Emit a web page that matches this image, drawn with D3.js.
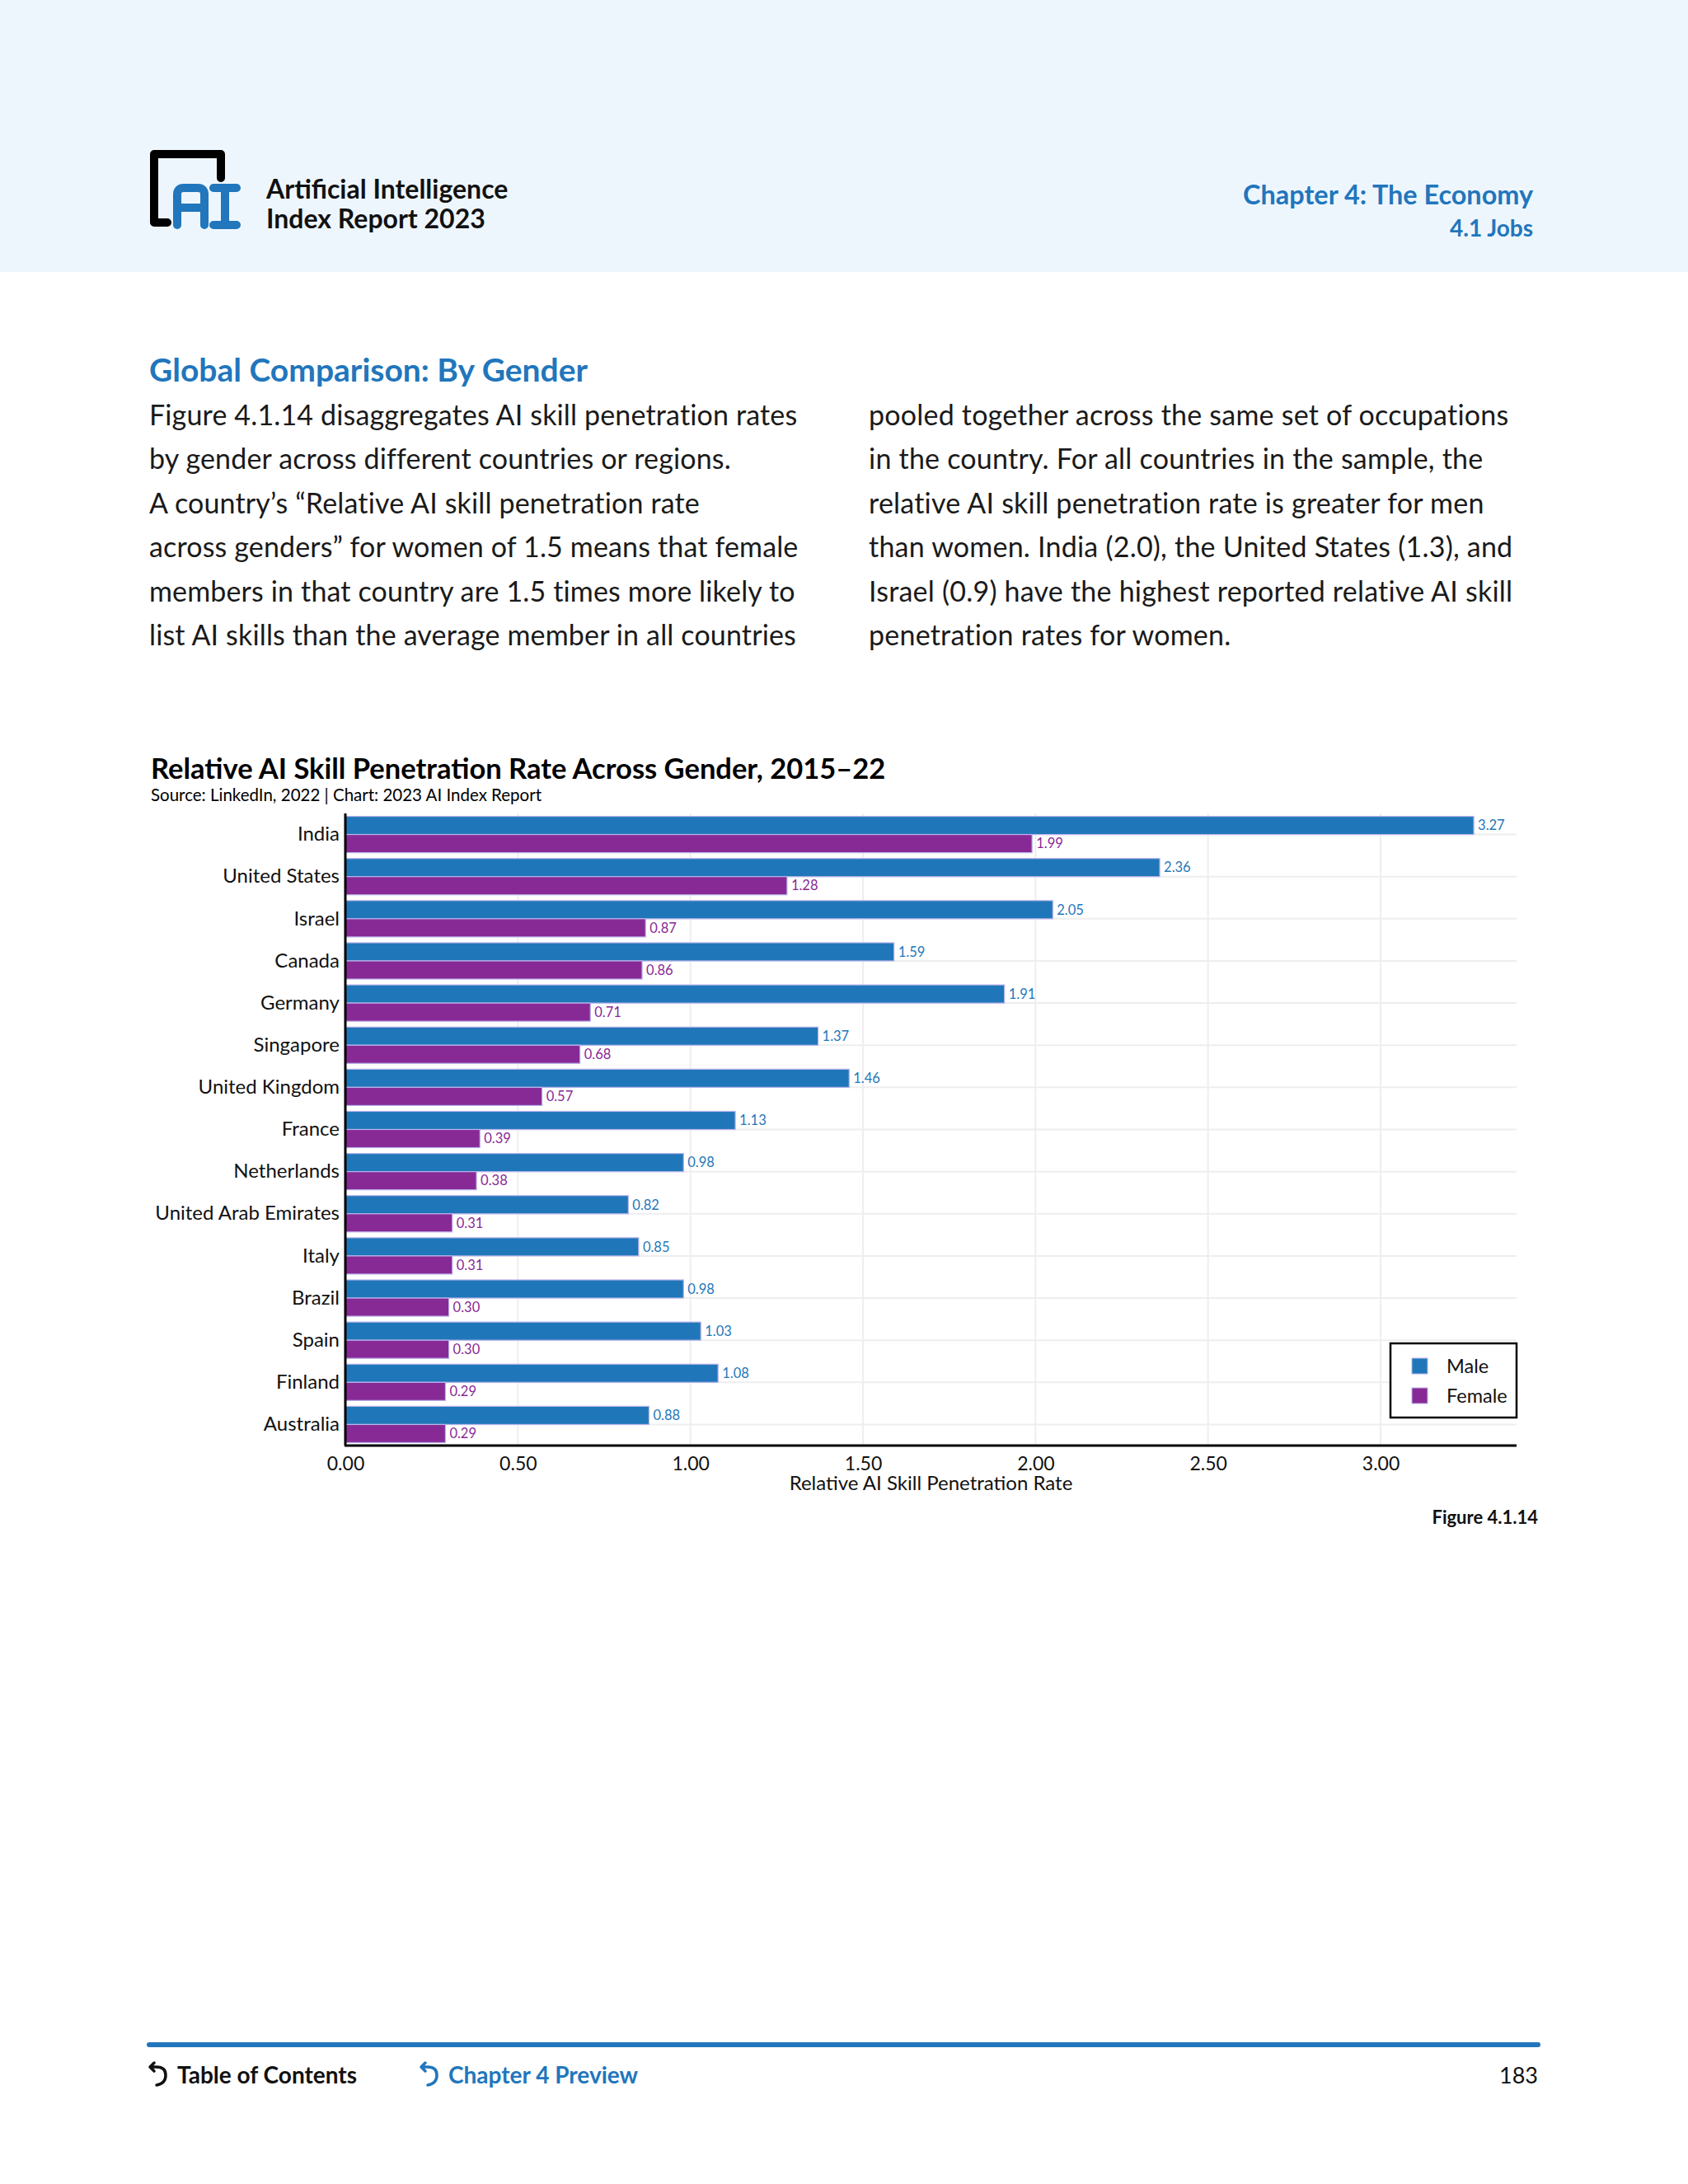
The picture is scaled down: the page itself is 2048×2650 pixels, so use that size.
<!DOCTYPE html>
<html>
<head>
<meta charset="utf-8">
<script src="https://cdn.jsdelivr.net/npm/d3@7"></script>
<style>
  html, body { margin: 0; padding: 0; background: #ffffff; }
  svg { display: block; }
</style>
</head>
<body>
<svg id="page" width="2048" height="2650"></svg>
<script>
// ---------------- DATA ----------------
const countries = ["India", "United States", "Israel", "Canada", "Germany", "Singapore",
  "United Kingdom", "France", "Netherlands", "United Arab Emirates", "Italy", "Brazil",
  "Spain", "Finland", "Australia"];
const maleValues = [3.27, 2.36, 2.05, 1.59, 1.91, 1.37, 1.46, 1.13, 0.98, 0.82, 0.85, 0.98, 1.03, 1.08, 0.88];
const femaleValues = [1.99, 1.28, 0.87, 0.86, 0.71, 0.68, 0.57, 0.39, 0.38, 0.31, 0.31, 0.30, 0.30, 0.29, 0.29];
const seriesNames = ["Male", "Female"];
const xTicks = [0, 0.5, 1.0, 1.5, 2.0, 2.5, 3.0];
const xTickLabels = ["0.00", "0.50", "1.00", "1.50", "2.00", "2.50", "3.00"];

const leftParagraph = [
  "Figure 4.1.14 disaggregates AI skill penetration rates",
  "by gender across different countries or regions.",
  "A country’s “Relative AI skill penetration rate",
  "across genders” for women of 1.5 means that female",
  "members in that country are 1.5 times more likely to",
  "list AI skills than the average member in all countries"
];
const rightParagraph = [
  "pooled together across the same set of occupations",
  "in the country. For all countries in the sample, the",
  "relative AI skill penetration rate is greater for men",
  "than women. India (2.0), the United States (1.3), and",
  "Israel (0.9) have the highest reported relative AI skill",
  "penetration rates for women."
];

// ---------------- STYLE ----------------
const BLUE = "#1f77b9";
const PURPLE = "#882a96";
const HEAD_BLUE = "#2176bc";
const TXT = "#111111";
const FONT = "Lato, 'Open Sans', sans-serif";

const svg = d3.select("#page");

// Header band
svg.append("rect").attr("x", 0).attr("y", 0).attr("width", 2048).attr("height", 330).attr("fill", "#eef6fd");

// Logo
const logo = svg.append("g");
logo.append("path")
  .attr("d", "M 268 216 L 268 187 L 187 187 L 187 270 L 203 270")
  .attr("fill", "none").attr("stroke", "#000").attr("stroke-width", 10).attr("stroke-linecap", "round").attr("stroke-linejoin", "round");
// "A"
logo.append("path")
  .attr("d", "M 215 273 L 215 236 Q 215 228 223 228 L 240 228 Q 248 228 248 236 L 248 273 M 215 252 L 248 252")
  .attr("fill", "none").attr("stroke", HEAD_BLUE).attr("stroke-width", 10).attr("stroke-linecap", "round").attr("stroke-linejoin", "round");
// "I"
logo.append("path")
  .attr("d", "M 259 228 L 287 228 M 273 228 L 273 273 M 259 273 L 287 273")
  .attr("fill", "none").attr("stroke", HEAD_BLUE).attr("stroke-width", 10).attr("stroke-linecap", "round");

svg.append("text").attr("x", 323).attr("y", 241).attr("font-family", FONT).attr("font-weight", 700)
  .attr("font-size", 32).attr("fill", TXT).text("Artificial Intelligence");
svg.append("text").attr("x", 323).attr("y", 277).attr("font-family", FONT).attr("font-weight", 700)
  .attr("font-size", 32).attr("fill", TXT).text("Index Report 2023");

svg.append("text").attr("x", 1860).attr("y", 248).attr("text-anchor", "end").attr("font-family", FONT)
  .attr("font-weight", 700).attr("font-size", 32.4).attr("fill", HEAD_BLUE).text("Chapter 4: The Economy");
svg.append("text").attr("x", 1860).attr("y", 287).attr("text-anchor", "end").attr("font-family", FONT)
  .attr("font-weight", 700).attr("font-size", 28).attr("fill", HEAD_BLUE).text("4.1 Jobs");

// Section heading
svg.append("text").attr("x", 181).attr("y", 463).attr("font-family", FONT).attr("font-weight", 700)
  .attr("font-size", 39).attr("fill", HEAD_BLUE).text("Global Comparison: By Gender");

// Paragraph columns
const lineY0 = 516, lineH = 53.4;
leftParagraph.forEach((t, i) => {
  svg.append("text").attr("x", 181).attr("y", lineY0 + i * lineH).attr("font-family", FONT)
    .attr("font-size", 34).attr("letter-spacing", 0.15).attr("fill", "#1a1a1a").text(t);
});
rightParagraph.forEach((t, i) => {
  svg.append("text").attr("x", 1054).attr("y", lineY0 + i * lineH).attr("font-family", FONT)
    .attr("font-size", 34).attr("letter-spacing", 0.22).attr("fill", "#1a1a1a").text(t);
});

// Chart title
svg.append("text").attr("x", 183).attr("y", 945).attr("font-family", FONT).attr("font-weight", 700)
  .attr("font-size", 34.5).attr("fill", "#000").text("Relative AI Skill Penetration Rate Across Gender, 2015–22");
svg.append("text").attr("x", 183).attr("y", 972).attr("font-family", FONT)
  .attr("font-size", 20.5).attr("fill", "#000").text("Source: LinkedIn, 2022 | Chart: 2023 AI Index Report");

// ---------------- CHART ----------------
const plot = { left: 419, right: 1840, top: 987, bottom: 1754 };
const x = d3.scaleLinear().domain([0, 3.394]).range([plot.left, plot.right]);
const y = d3.scaleBand().domain(countries).range([plot.top, plot.bottom]).paddingInner(0).paddingOuter(0);
const sub = d3.scaleBand().domain(seriesNames).range([0, y.bandwidth()]).paddingOuter(0.16).paddingInner(0);

const g = svg.append("g");

// vertical gridlines
g.selectAll("line.vgrid").data(xTicks.slice(1)).enter().append("line")
  .attr("x1", d => x(d)).attr("x2", d => x(d)).attr("y1", plot.top).attr("y2", plot.bottom)
  .attr("stroke", "#eeeeee").attr("stroke-width", 2);
// horizontal gridlines at category centers
g.selectAll("line.hgrid").data(countries).enter().append("line")
  .attr("x1", plot.left).attr("x2", plot.right)
  .attr("y1", d => y(d) + y.bandwidth() / 2).attr("y2", d => y(d) + y.bandwidth() / 2)
  .attr("stroke", "#eeeeee").attr("stroke-width", 2);

const series = [
  { name: "Male", values: maleValues, color: BLUE },
  { name: "Female", values: femaleValues, color: PURPLE }
];

series.forEach(s => {
  const rows = countries.map((c, i) => ({ c, v: s.values[i] }));
  g.selectAll("rect.bar-" + s.name).data(rows).enter().append("rect")
    .attr("x", x(0)).attr("y", d => y(d.c) + sub(s.name))
    .attr("width", d => x(d.v) - x(0)).attr("height", sub.bandwidth())
    .attr("fill", s.color).attr("stroke", "#b9b4ec").attr("stroke-width", 1.2);
  g.selectAll("text.lbl-" + s.name).data(rows).enter().append("text")
    .attr("x", d => x(d.v) + 5).attr("y", d => y(d.c) + sub(s.name) + sub.bandwidth() / 2)
    .attr("dy", "0.35em").attr("font-family", FONT).attr("font-size", 16.5).attr("fill", s.color)
    .text(d => d.v.toFixed(2));
});

// X axis
const xAxis = d3.axisBottom(x).tickValues(xTicks).tickFormat((d, i) => xTickLabels[i]).tickSize(0).tickPadding(14);
const xg = svg.append("g").attr("transform", `translate(0,${plot.bottom})`).call(xAxis);
xg.select(".domain").remove();
xg.selectAll("text").attr("font-family", FONT).attr("font-size", 23).attr("fill", "#111");
svg.append("line").attr("x1", plot.left - 1).attr("x2", plot.right).attr("y1", plot.bottom).attr("y2", plot.bottom)
  .attr("stroke", "#000").attr("stroke-width", 3);

// Y axis
const yAxis = d3.axisLeft(y).tickSize(0).tickPadding(7);
const yg = svg.append("g").attr("transform", `translate(${plot.left},0)`).call(yAxis);
yg.select(".domain").remove();
yg.selectAll("text").attr("font-family", FONT).attr("font-size", 24).attr("fill", "#111");
svg.append("line").attr("x1", plot.left).attr("x2", plot.left).attr("y1", plot.top).attr("y2", plot.bottom)
  .attr("stroke", "#000").attr("stroke-width", 3);

// Axis title
svg.append("text").attr("x", (plot.left + plot.right) / 2).attr("y", 1808).attr("text-anchor", "middle")
  .attr("font-family", FONT).attr("font-size", 24).attr("fill", "#111").text("Relative AI Skill Penetration Rate");

// Legend
const lg = svg.append("g").attr("transform", "translate(1687,1630)");
lg.append("rect").attr("x", 0).attr("y", 0).attr("width", 153).attr("height", 90)
  .attr("fill", "#fff").attr("stroke", "#000").attr("stroke-width", 2.5);
series.forEach((s, i) => {
  lg.append("rect").attr("x", 26).attr("y", 18 + i * 36).attr("width", 19).attr("height", 19)
    .attr("fill", s.color).attr("stroke", "#b9b4ec").attr("stroke-width", 1);
  lg.append("text").attr("x", 68).attr("y", 28 + i * 36).attr("dy", "0.35em")
    .attr("font-family", FONT).attr("font-size", 23.5).attr("fill", "#111").text(s.name);
});

// Figure label
svg.append("text").attr("x", 1866).attr("y", 1849).attr("text-anchor", "end").attr("font-family", FONT)
  .attr("font-weight", 700).attr("font-size", 22).attr("fill", "#111").text("Figure 4.1.14");

// Footer
svg.append("line").attr("x1", 181).attr("x2", 1866).attr("y1", 2481).attr("y2", 2481)
  .attr("stroke", HEAD_BLUE).attr("stroke-width", 6).attr("stroke-linecap", "round");
function backIcon(xp, color) {
  svg.append("path")
    .attr("d", `M ${xp + 2} ${2508} L ${xp + 9} ${2508} Q ${xp + 20} ${2508} ${xp + 20} ${2518} Q ${xp + 20} ${2528} ${xp + 9} ${2530} M ${xp + 6} ${2503} L ${xp + 1} ${2508} L ${xp + 6} ${2513}`)
    .attr("fill", "none").attr("stroke", color).attr("stroke-width", 3.5).attr("stroke-linecap", "round").attr("stroke-linejoin", "round");
}
backIcon(181, "#111");
backIcon(510, HEAD_BLUE);
svg.append("text").attr("x", 215).attr("y", 2528).attr("font-family", FONT).attr("font-weight", 700)
  .attr("font-size", 28).attr("fill", "#111").text("Table of Contents");
svg.append("text").attr("x", 544).attr("y", 2528).attr("font-family", FONT).attr("font-weight", 700)
  .attr("font-size", 28).attr("fill", HEAD_BLUE).text("Chapter 4 Preview");
svg.append("text").attr("x", 1866).attr("y", 2528).attr("text-anchor", "end").attr("font-family", FONT)
  .attr("font-weight", 400).attr("font-size", 27).attr("fill", "#111").text("183");
</script>
</body>
</html>
